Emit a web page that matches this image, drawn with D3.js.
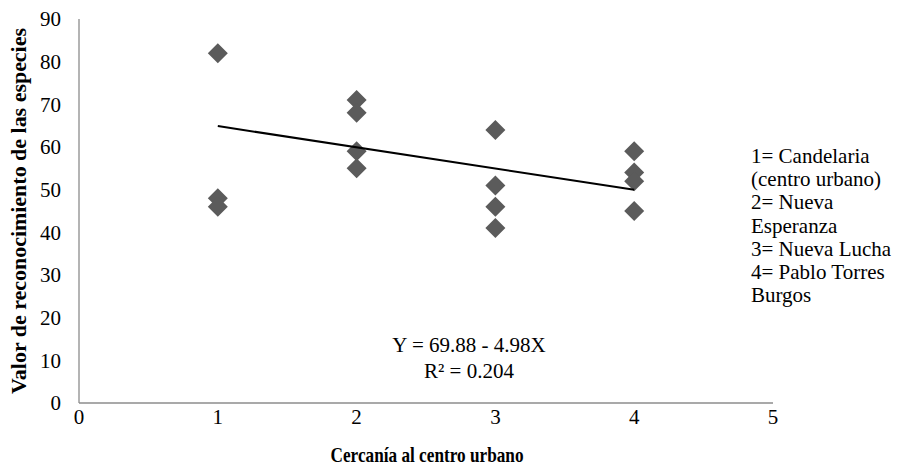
<!DOCTYPE html>
<meta charset="utf-8">
<style>
    body { margin: 0; background: #fff; }
    .chart text { font-family: "Liberation Serif", "Times New Roman", serif; fill: #000; }
</style>
<svg class="chart"></svg>
<script src="https://cdn.jsdelivr.net/npm/d3@7/dist/d3.min.js"></script>
<script>

    // site number (1..4) and recognition value for each respondent group
    var sites = [1, 1, 1, 2, 2, 2, 2, 3, 3, 3, 3, 4, 4, 4, 4];
    var values = [82, 48, 46, 71, 68, 59, 55, 64, 51, 46, 41, 59, 54, 52, 45];

    var xTicks = [0, 1, 2, 3, 4, 5];
    var yTicks = [0, 10, 20, 30, 40, 50, 60, 70, 80, 90];

    // trend line: Y = a + b X, drawn between x = 1 and x = 4
    var trendCoef = [69.88, -4.98];
    var trendRange = [1, 4];
    var equationLines = ["Y = 69.88 - 4.98X", "R² = 0.204"];

    var legendLines = ["1= Candelaria", "(centro urbano)", "2= Nueva", "Esperanza",
                       "3= Nueva Lucha", "4= Pablo Torres", "Burgos"];

    var width = 914,
        height = 471;

    var x = d3.scaleLinear().domain([0, 5]).range([79, 773]);
    var y = d3.scaleLinear().domain([0, 90]).range([403, 19]);

    var chart = d3.select(".chart")
        .attr("width", width)
        .attr("height", height);

    // axis lines
    chart.append("line")
        .attr("x1", x(0)).attr("x2", x(0))
        .attr("y1", y(90)).attr("y2", y(0))
        .attr("stroke", "#8c8c8c").attr("stroke-width", 1.3);
    chart.append("line")
        .attr("x1", x(0)).attr("x2", x(5))
        .attr("y1", y(0)).attr("y2", y(0))
        .attr("stroke", "#8c8c8c").attr("stroke-width", 1.3);

    // tick labels
    chart.selectAll(".ytick")
        .data(yTicks)
        .enter().append("text")
        .attr("class", "ytick")
        .attr("x", 61)
        .attr("y", function(d) { return y(d); })
        .attr("dy", "0.35em")
        .attr("text-anchor", "end")
        .style("font-size", "21px")
        .text(function(d) { return d; });

    chart.selectAll(".xtick")
        .data(xTicks)
        .enter().append("text")
        .attr("class", "xtick")
        .attr("x", function(d) { return x(d); })
        .attr("y", 424)
        .attr("text-anchor", "middle")
        .style("font-size", "21px")
        .text(function(d) { return d; });

    // axis titles
    chart.append("text")
        .attr("transform", "translate(26," + 211 + ") rotate(-90)")
        .attr("text-anchor", "middle")
        .attr("textLength", 366)
        .attr("lengthAdjust", "spacingAndGlyphs")
        .style("font-size", "21px")
        .style("font-weight", "bold")
        .text("Valor de reconocimiento de las especies");

    chart.append("text")
        .attr("x", 427)
        .attr("y", 462)
        .attr("text-anchor", "middle")
        .attr("textLength", 193)
        .attr("lengthAdjust", "spacingAndGlyphs")
        .style("font-size", "21px")
        .style("font-weight", "bold")
        .text("Cercanía al centro urbano");

    // points
    var data = sites.map(function(s, i) { return { x: s, y: values[i] }; });
    var diamond = d3.symbol().type(d3.symbolSquare).size(200);

    chart.selectAll(".pt")
        .data(data)
        .enter().append("path")
        .attr("class", "pt")
        .attr("d", diamond)
        .attr("transform", function(d) { return "translate(" + x(d.x) + "," + y(d.y) + ") rotate(45)"; })
        .attr("fill", "#5b5b5b");

    // trend line
    var trend = trendRange.map(function(t) { return [t, trendCoef[0] + trendCoef[1] * t]; });
    chart.append("path")
        .datum(trend)
        .attr("d", d3.line().x(function(d) { return x(d[0]); }).y(function(d) { return y(d[1]); }))
        .attr("fill", "none")
        .attr("stroke", "#000")
        .attr("stroke-width", 2);

    // equation
    chart.selectAll(".eq")
        .data(equationLines)
        .enter().append("text")
        .attr("class", "eq")
        .attr("x", 469)
        .attr("y", function(d, i) { return 352 + i * 26; })
        .attr("text-anchor", "middle")
        .style("font-size", "21px")
        .text(function(d) { return d; });

    // legend note
    chart.selectAll(".note")
        .data(legendLines)
        .enter().append("text")
        .attr("class", "note")
        .attr("x", 751)
        .attr("y", function(d, i) { return 163 + i * 23.2; })
        .style("font-size", "21px")
        .text(function(d) { return d; });

</script>
